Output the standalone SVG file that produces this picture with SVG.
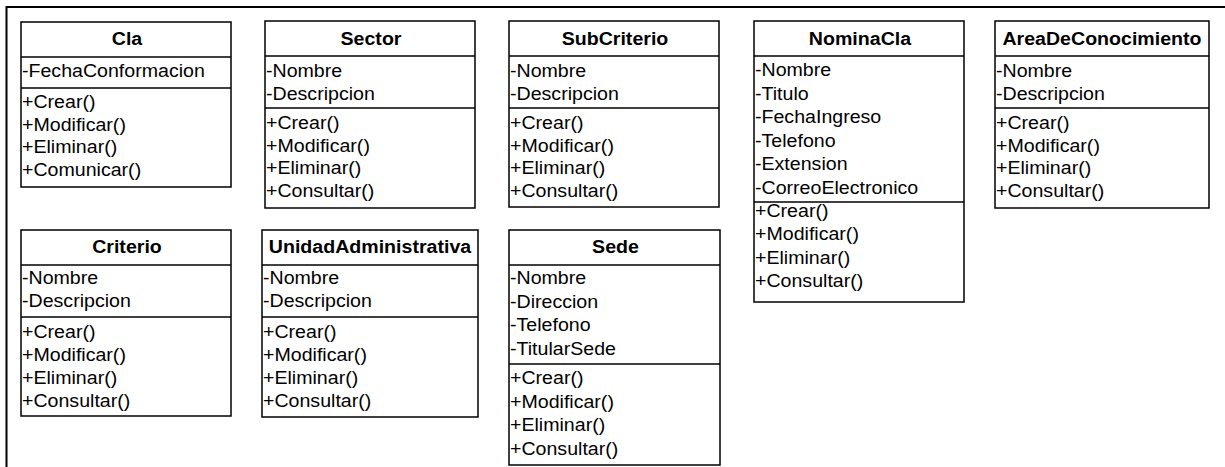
<svg xmlns="http://www.w3.org/2000/svg" width="1225" height="467" viewBox="0 0 1225 467">
<style>
.bg{fill:#fff}
.frame{fill:none;stroke:#000;stroke-width:2}
.box{fill:#fff;stroke:#000;stroke-width:1.5}
.sep{stroke:#000;stroke-width:1.5}
text{font-family:"Liberation Sans",Arial,sans-serif;font-size:17.5px;fill:#000}
.title{font-weight:bold;text-anchor:middle}
</style>
<rect class="bg" x="0" y="0" width="1225" height="467"/>
<path class="frame" d="M6.5,467 V7 H1225"/>
<g id="connectors"></g>

<g id="cla">
<rect class="box" x="21" y="22" width="210" height="165"/>
<line class="sep" x1="21" y1="57" x2="231" y2="57"/>
<line class="sep" x1="21" y1="88" x2="231" y2="88"/>
<g transform="translate(22,0) scale(1.12,1)">
<text class="title" x="93.75" y="45.5">Cla</text>
<text x="0" y="77">-FechaConformacion</text>
<text x="0" y="108">+Crear()</text>
<text x="0" y="131">+Modificar()</text>
<text x="0" y="153.5">+Eliminar()</text>
<text x="0" y="176">+Comunicar()</text>
</g>
</g>

<g id="sector">
<rect class="box" x="265" y="21" width="210" height="187"/>
<line class="sep" x1="265" y1="56" x2="475" y2="56"/>
<line class="sep" x1="265" y1="108" x2="475" y2="108"/>
<g transform="translate(266,0) scale(1.12,1)">
<text class="title" x="93.75" y="45">Sector</text>
<text x="0" y="76.7">-Nombre</text>
<text x="0" y="100">-Descripcion</text>
<text x="0" y="128.7">+Crear()</text>
<text x="0" y="151.7">+Modificar()</text>
<text x="0" y="174.5">+Eliminar()</text>
<text x="0" y="197.5">+Consultar()</text>
</g>
</g>

<g id="subcriterio">
<rect class="box" x="509" y="21" width="210" height="186"/>
<line class="sep" x1="509" y1="56" x2="719" y2="56"/>
<line class="sep" x1="509" y1="108" x2="719" y2="108"/>
<g transform="translate(510,0) scale(1.12,1)">
<text class="title" x="93.75" y="45">SubCriterio</text>
<text x="0" y="76.7">-Nombre</text>
<text x="0" y="100">-Descripcion</text>
<text x="0" y="128.7">+Crear()</text>
<text x="0" y="151.7">+Modificar()</text>
<text x="0" y="174.5">+Eliminar()</text>
<text x="0" y="197.5">+Consultar()</text>
</g>
</g>

<g id="nominacla">
<rect class="box" x="754" y="21" width="210" height="281"/>
<line class="sep" x1="754" y1="56" x2="964" y2="56"/>
<line class="sep" x1="754" y1="202" x2="964" y2="202"/>
<g transform="translate(755,0) scale(1.12,1)">
<text class="title" x="93.75" y="45">NominaCla</text>
<text x="0" y="76.5">-Nombre</text>
<text x="0" y="100">-Titulo</text>
<text x="0" y="123.5">-FechaIngreso</text>
<text x="0" y="147">-Telefono</text>
<text x="0" y="170.5">-Extension</text>
<text x="0" y="194">-CorreoElectronico</text>
<text x="0" y="217">+Crear()</text>
<text x="0" y="240.5">+Modificar()</text>
<text x="0" y="264">+Eliminar()</text>
<text x="0" y="287.5">+Consultar()</text>
</g>
</g>

<g id="areadeconocimiento">
<rect class="box" x="995" y="21" width="214" height="187"/>
<line class="sep" x1="995" y1="56" x2="1209" y2="56"/>
<line class="sep" x1="995" y1="108" x2="1209" y2="108"/>
<g transform="translate(996,0) scale(1.12,1)">
<text class="title" x="94.64" y="45">AreaDeConocimiento</text>
<text x="0" y="76.7">-Nombre</text>
<text x="0" y="100">-Descripcion</text>
<text x="0" y="128.7">+Crear()</text>
<text x="0" y="151.7">+Modificar()</text>
<text x="0" y="174.5">+Eliminar()</text>
<text x="0" y="197.5">+Consultar()</text>
</g>
</g>

<g id="criterio">
<rect class="box" x="21" y="230" width="210" height="186"/>
<line class="sep" x1="21" y1="265" x2="231" y2="265"/>
<line class="sep" x1="21" y1="317" x2="231" y2="317"/>
<g transform="translate(22,0) scale(1.12,1)">
<text class="title" x="93.75" y="253">Criterio</text>
<text x="0" y="284.5">-Nombre</text>
<text x="0" y="307">-Descripcion</text>
<text x="0" y="337.7">+Crear()</text>
<text x="0" y="361">+Modificar()</text>
<text x="0" y="384.3">+Eliminar()</text>
<text x="0" y="407.5">+Consultar()</text>
</g>
</g>

<g id="unidadadministrativa">
<rect class="box" x="262" y="230" width="216" height="187"/>
<line class="sep" x1="262" y1="265" x2="478" y2="265"/>
<line class="sep" x1="262" y1="317" x2="478" y2="317"/>
<g transform="translate(263,0) scale(1.12,1)">
<text class="title" x="95.54" y="253">UnidadAdministrativa</text>
<text x="0" y="284.5">-Nombre</text>
<text x="0" y="307">-Descripcion</text>
<text x="0" y="337.7">+Crear()</text>
<text x="0" y="361">+Modificar()</text>
<text x="0" y="384.3">+Eliminar()</text>
<text x="0" y="407.5">+Consultar()</text>
</g>
</g>

<g id="sede">
<rect class="box" x="509" y="230" width="211" height="235"/>
<line class="sep" x1="509" y1="265" x2="720" y2="265"/>
<line class="sep" x1="509" y1="364" x2="720" y2="364"/>
<g transform="translate(510,0) scale(1.12,1)">
<text class="title" x="94.2" y="253">Sede</text>
<text x="0" y="284.5">-Nombre</text>
<text x="0" y="308">-Direccion</text>
<text x="0" y="331.5">-Telefono</text>
<text x="0" y="355">-TitularSede</text>
<text x="0" y="384.5">+Crear()</text>
<text x="0" y="408">+Modificar()</text>
<text x="0" y="431.5">+Eliminar()</text>
<text x="0" y="455">+Consultar()</text>
</g>
</g>
</svg>
